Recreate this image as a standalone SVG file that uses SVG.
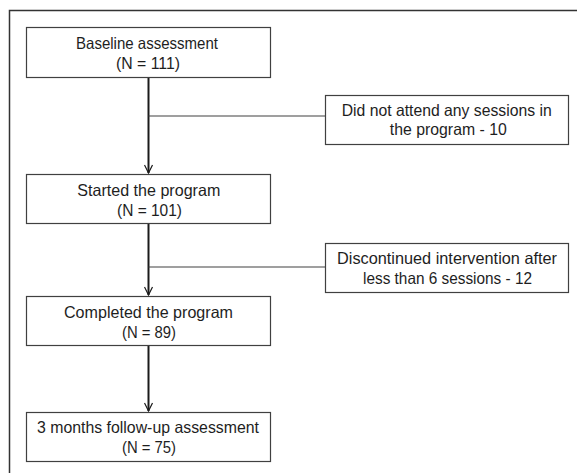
<svg xmlns="http://www.w3.org/2000/svg" width="577" height="473" viewBox="0 0 577 473">
<defs>
<style>
.box{fill:#fff;stroke:#404040;stroke-width:1.2}
.t{font-family:"Liberation Sans",Arial,sans-serif;font-size:16.5px;fill:#1e1e1e;text-anchor:middle}
.main{stroke:#1a1a1a;stroke-width:2;fill:none}
.side{stroke:#404040;stroke-width:1.2;fill:none}
</style>
<marker id="arr" viewBox="0 0 10 10" refX="9" refY="5" markerWidth="10" markerHeight="10" markerUnits="userSpaceOnUse" orient="auto">
<path d="M1,1 L9,5 L1,9" fill="none" stroke="#1a1a1a" stroke-width="1.2"/>
</marker>
</defs>
<rect width="577" height="473" fill="#fff"/>
<path d="M9.5,480 V10.5 H590" fill="none" stroke="#333" stroke-width="1.5"/>
<g id="connectors">
<line class="main" x1="148.5" y1="77" x2="148.5" y2="173" marker-end="url(#arr)"/>
<line class="side" x1="148.5" y1="116" x2="325" y2="116"/>
<line class="main" x1="148.5" y1="223" x2="148.5" y2="295" marker-end="url(#arr)"/>
<line class="side" x1="148.5" y1="267" x2="325" y2="267"/>
<line class="main" x1="148.5" y1="346" x2="148.5" y2="411" marker-end="url(#arr)"/>
</g>
<g id="n1"><rect class="box" x="26.5" y="27.5" width="244" height="50"/><text class="t" x="147" y="49" textLength="142" lengthAdjust="spacingAndGlyphs">Baseline assessment</text><text class="t" x="148" y="69" textLength="64" lengthAdjust="spacingAndGlyphs">(N = 111)</text></g>
<g id="e1"><rect class="box" x="325.5" y="95.5" width="243" height="49"/><text class="t" x="446.7" y="116" textLength="210" lengthAdjust="spacingAndGlyphs">Did not attend any sessions in</text><text class="t" x="448.3" y="135" textLength="117" lengthAdjust="spacingAndGlyphs">the program - 10</text></g>
<g id="n2"><rect class="box" x="26.5" y="174.5" width="244" height="49"/><text class="t" x="148.8" y="196" textLength="143" lengthAdjust="spacingAndGlyphs">Started the program</text><text class="t" x="149.5" y="216" textLength="65" lengthAdjust="spacingAndGlyphs">(N = 101)</text></g>
<g id="e2"><rect class="box" x="325.5" y="243.5" width="243" height="49"/><text class="t" x="447" y="264" textLength="220" lengthAdjust="spacingAndGlyphs">Discontinued intervention after</text><text class="t" x="447.5" y="284" textLength="169" lengthAdjust="spacingAndGlyphs">less than 6 sessions - 12</text></g>
<g id="n3"><rect class="box" x="26.5" y="296.5" width="244" height="49"/><text class="t" x="148.5" y="318" textLength="169" lengthAdjust="spacingAndGlyphs">Completed the program</text><text class="t" x="149" y="338" textLength="54" lengthAdjust="spacingAndGlyphs">(N = 89)</text></g>
<g id="n4"><rect class="box" x="26.5" y="412.5" width="244" height="49"/><text class="t" x="148" y="433" textLength="222" lengthAdjust="spacingAndGlyphs">3 months follow-up assessment</text><text class="t" x="149" y="453" textLength="54" lengthAdjust="spacingAndGlyphs">(N = 75)</text></g>
</svg>
